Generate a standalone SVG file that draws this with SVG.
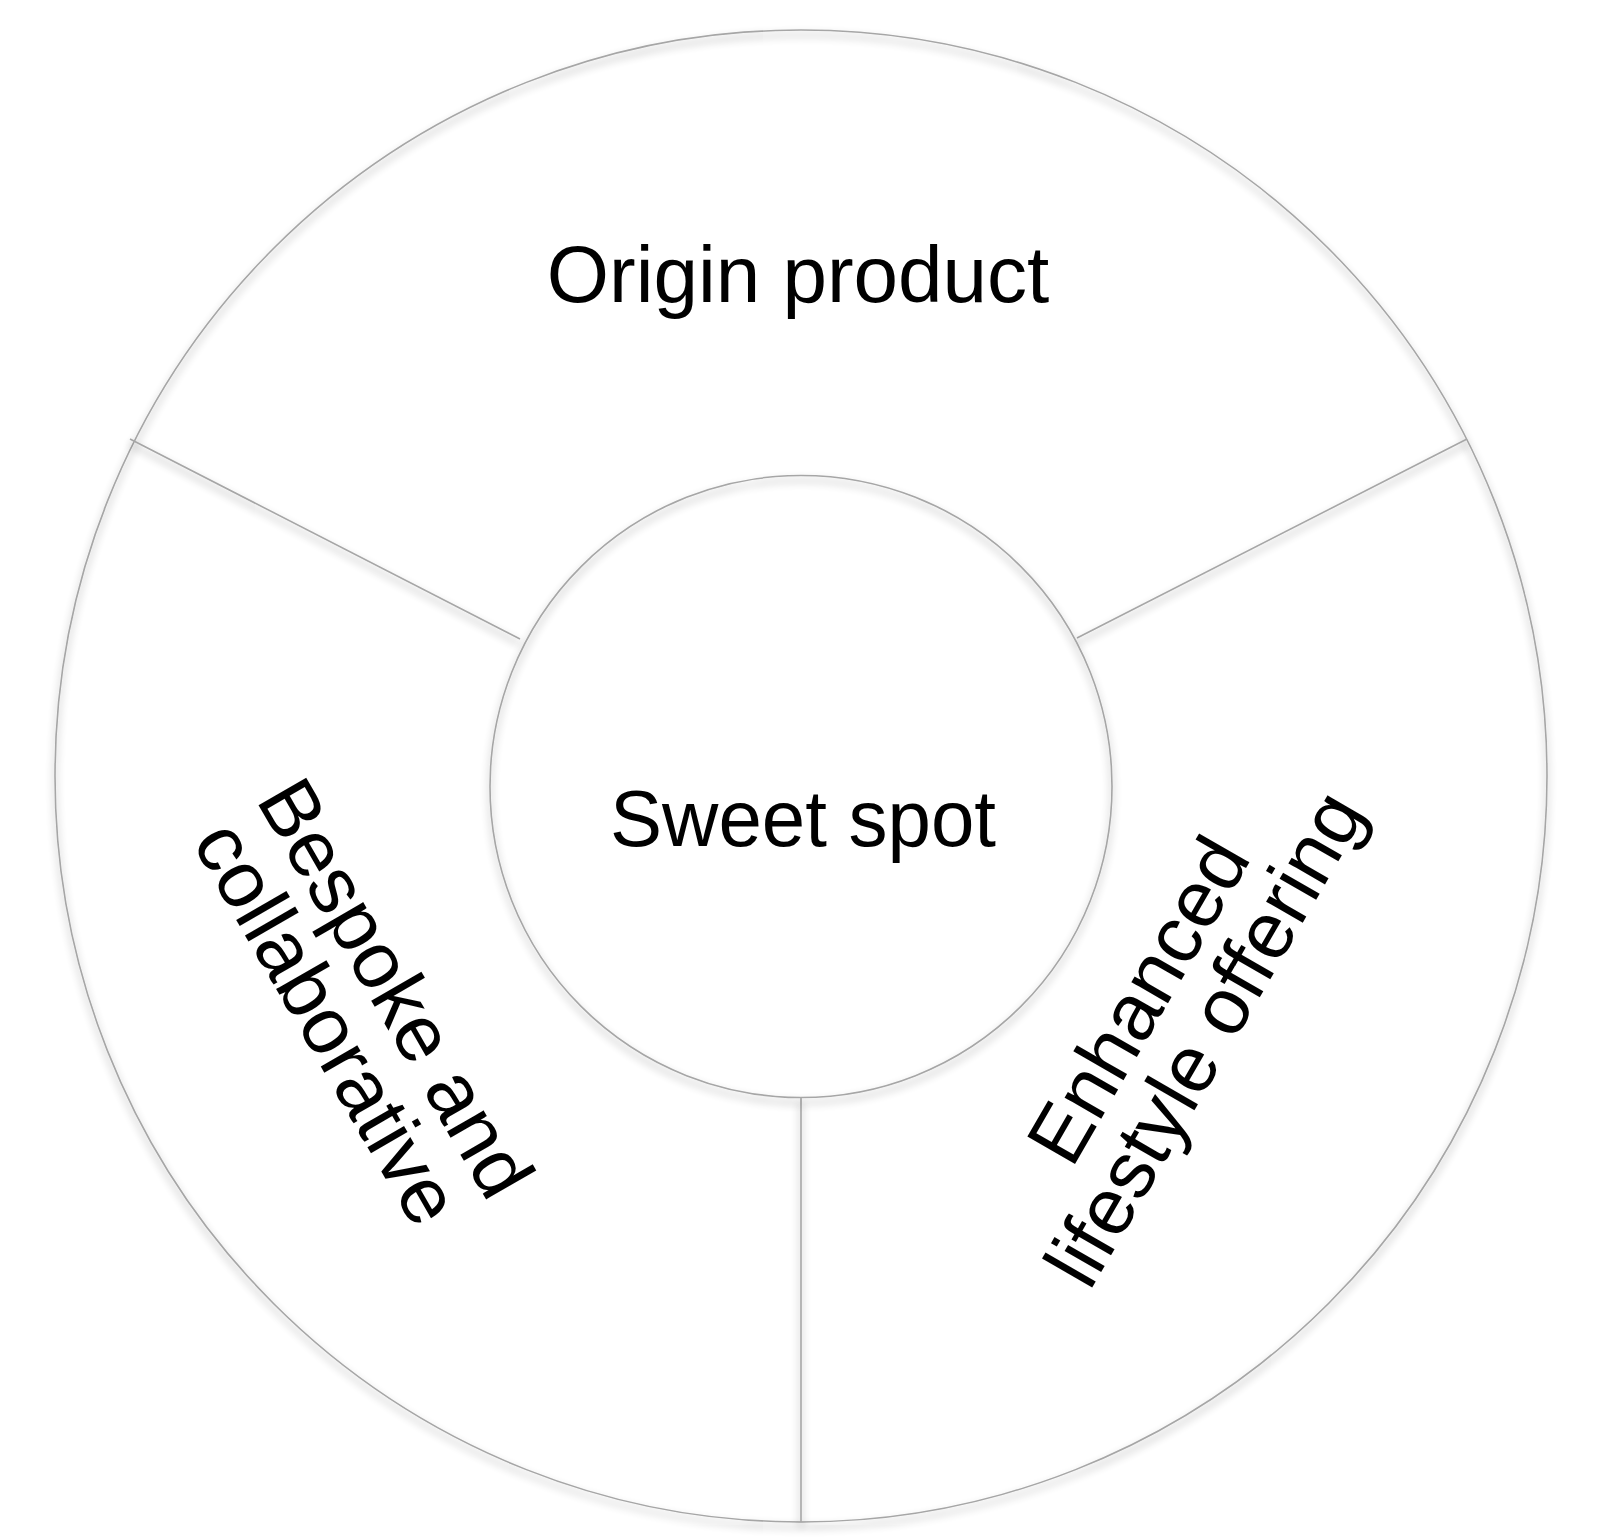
<svg xmlns="http://www.w3.org/2000/svg" width="1600" height="1540" viewBox="0 0 1600 1540">
  <style>
    .ring { fill: none; stroke: #a6a6a6; stroke-width: 1.6; }
    .div { stroke: #a6a6a6; stroke-width: 1.6; fill: none; }
    .lbl { font-family: "Liberation Sans", Arial, Helvetica, sans-serif; font-size: 80px; fill: #000000; text-anchor: middle; }
  </style>
  <defs>
    <filter id="shadow" x="-10%" y="-10%" width="120%" height="120%">
      <feGaussianBlur in="SourceAlpha" stdDeviation="4" result="b"/>
      <feOffset in="b" dx="0" dy="5" result="o"/>
      <feComponentTransfer in="o" result="s">
        <feFuncA type="linear" slope="0.45"/>
      </feComponentTransfer>
      <feMerge>
        <feMergeNode in="s"/>
        <feMergeNode in="SourceGraphic"/>
      </feMerge>
    </filter>
  </defs>
  <rect x="0" y="0" width="1600" height="1540" fill="#ffffff"/>

  <g id="outer-ring" filter="url(#shadow)">
    <circle class="ring" cx="801" cy="776" r="746"/>
  </g>

  <g id="connectors" filter="url(#shadow)">
    <line class="div" x1="130" y1="439" x2="520" y2="639"/>
    <line class="div" x1="1467" y1="439" x2="1077" y2="638"/>
    <line class="div" x1="801" y1="1098" x2="801" y2="1522"/>
  </g>

  <g id="sweet-spot">
    <circle class="ring" cx="801" cy="786.5" r="311" filter="url(#shadow)"/>
    <text class="lbl" x="803" y="846" textLength="386" lengthAdjust="spacingAndGlyphs">Sweet spot</text>
  </g>

  <g id="origin-product">
    <text class="lbl" x="798" y="302">Origin product</text>
  </g>

  <g id="bespoke-collaborative" transform="translate(371.9 1001.7) rotate(60)">
    <text class="lbl" x="0" y="0">Bespoke and</text>
    <text class="lbl" x="-4" y="76.7">collaborative</text>
  </g>

  <g id="enhanced-lifestyle" transform="translate(1161.8 1013.8) rotate(-60)">
    <text class="lbl" x="0" y="0">Enhanced</text>
    <text class="lbl" x="0" y="76.7">lifestyle offering</text>
  </g>
</svg>
